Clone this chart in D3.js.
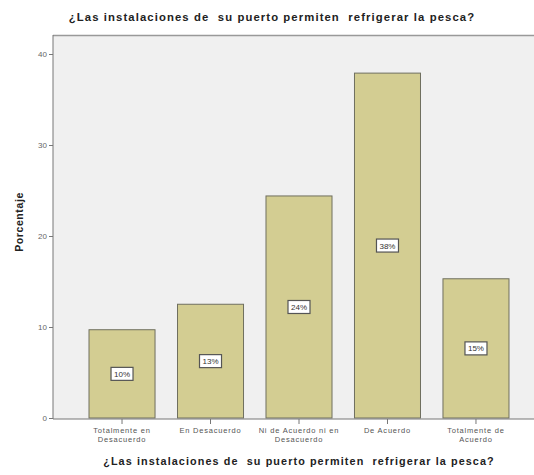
<!DOCTYPE html>
<html><head><meta charset="utf-8">
<script src="https://cdn.jsdelivr.net/npm/d3@7"></script>
<style>body{margin:0;background:#fff;} svg{display:block;} text{white-space:pre;}</style>
</head><body>
<script>
const categories = [["Totalmente en","Desacuerdo"],["En Desacuerdo"],["Ni de Acuerdo ni en","Desacuerdo"],["De Acuerdo"],["Totalmente de","Acuerdo"]];
const values = [9.7, 12.5, 24.4, 37.9, 15.3];
const labels = ["10%","13%","24%","38%","15%"];
const yTicks = [0,10,20,30,40];
const title = "¿Las instalaciones de  su puerto permiten  refrigerar la pesca?";

(function(){
const W = 534, H = 475;
const FONT = "Liberation Sans, Arial, sans-serif";
const svg = d3.select("body").append("svg").attr("width", W).attr("height", H);
const pLeft = 53, pTop = 35, pBottom = 419, pRight = 545;

svg.append("rect").attr("x", pLeft).attr("y", pTop).attr("width", pRight-pLeft).attr("height", pBottom-pTop)
  .attr("fill", "#f0f0f0");
svg.append("line").attr("x1", pLeft).attr("x2", pRight).attr("y1", pTop+0.5).attr("y2", pTop+0.5)
  .attr("stroke", "#999").attr("stroke-width", 1.5);

const x = d3.scaleBand().domain(d3.range(values.length)).range([pLeft, pRight])
  .paddingInner(0.254).paddingOuter(0.407);
const y = d3.scaleLinear().domain([0, 40]).range([418, 54]);

const g = svg.append("g");
g.selectAll("rect.bar").data(values).join("rect").attr("class","bar")
  .attr("x", (d,i)=>x(i)).attr("y", d=>y(d)).attr("width", x.bandwidth()).attr("height", d=>y(0)-y(d))
  .attr("fill", "#d3cd92").attr("stroke", "#6f6f5f").attr("stroke-width", 1);

values.forEach((d,i)=>{
  const cx = x(i)+x.bandwidth()/2, cy = (y(d)+y(0))/2;
  g.append("rect").attr("x", cx-11).attr("y", cy-6.5).attr("width", 22).attr("height", 13)
    .attr("fill", "#fff").attr("stroke", "#555").attr("stroke-width", 1.2);
  g.append("text").attr("x", cx).attr("y", cy+3).attr("text-anchor","middle")
    .attr("font-family",FONT).attr("font-size", 8).attr("fill","#333")
    .text(labels[i]);
});

const yAxis = d3.axisLeft(y).tickValues(yTicks).tickSize(4).tickPadding(2);
const ya = svg.append("g").attr("transform", `translate(${pLeft},0)`).call(yAxis);
ya.select(".domain").attr("stroke", "#777").attr("d", `M0,${pTop}V${pBottom}`);
ya.selectAll(".tick line").attr("stroke", "#777");
ya.selectAll(".tick text").attr("font-family",FONT).attr("font-size", 8).attr("fill","#666");

const xa = svg.append("g").attr("transform", `translate(0,${pBottom})`);
xa.append("line").attr("x1", pLeft).attr("x2", pRight).attr("stroke", "#777").attr("stroke-width", 1.2);
categories.forEach((c,i)=>{
  const cx = x(i)+x.bandwidth()/2;
  xa.append("line").attr("x1", cx).attr("x2", cx).attr("y1", 0).attr("y2", 5).attr("stroke","#777");
  const t = xa.append("text").attr("x", cx).attr("y", 14).attr("text-anchor","middle")
    .attr("font-family",FONT).attr("font-size", 7.5).attr("letter-spacing", 0.8).attr("fill","#555");
  c.forEach((line,j)=>t.append("tspan").attr("x", cx).attr("dy", j===0?0:9).text(line));
});

svg.append("text").attr("x", 272).attr("y", 21).attr("text-anchor","middle")
  .attr("font-family",FONT).attr("font-weight","bold").attr("font-size", 11.3).attr("letter-spacing", 1.1)
  .attr("fill","#222").text(title);
svg.append("text").attr("x", 299).attr("y", 465).attr("text-anchor","middle")
  .attr("font-family",FONT).attr("font-weight","bold").attr("font-size", 10.8).attr("letter-spacing", 1.1)
  .attr("fill","#222").text(title);
svg.append("text").attr("transform", "translate(23,222) rotate(-90)").attr("text-anchor","middle")
  .attr("font-family",FONT).attr("font-weight","bold").attr("font-size", 10.5).attr("letter-spacing", 0.6)
  .attr("fill","#222").text("Porcentaje");
})();
</script>
</body></html>
